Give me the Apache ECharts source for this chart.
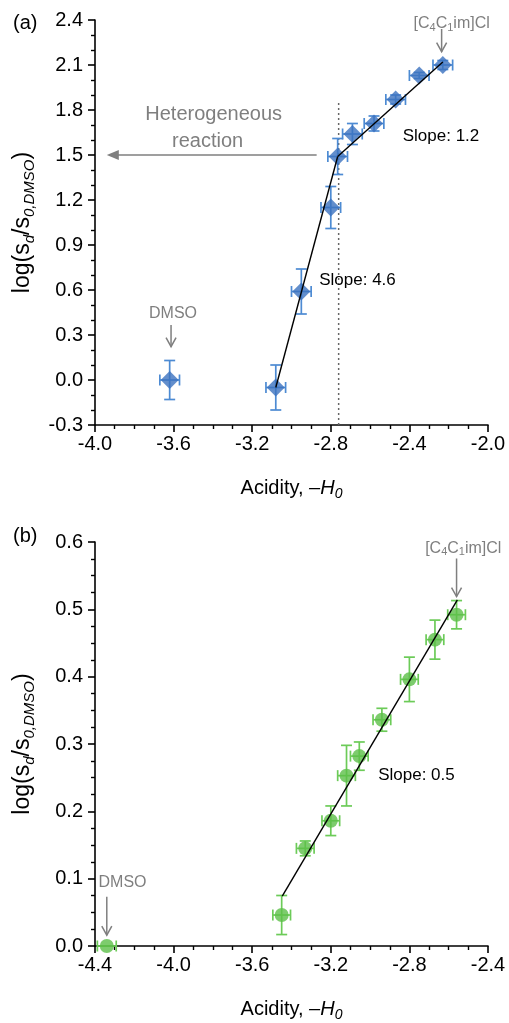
<!DOCTYPE html>
<html><head><meta charset="utf-8">
<script src="https://cdn.jsdelivr.net/npm/echarts@6/dist/echarts.min.js"></script>
<style>html,body{margin:0;padding:0;background:#fff}#c{width:509px;height:1023px}</style>
</head><body><div id="c"></div>
<script>
// ---------- data: panel (a) ----------
const acidityA   = [-3.62, -3.08, -2.95, -2.80, -2.765, -2.69, -2.58, -2.47, -2.35, -2.23];
const logRatioA  = [0.00, -0.05, 0.59, 1.15, 1.49, 1.64, 1.71, 1.87, 2.03, 2.10];
const acidErrA   = [0.05, 0.05, 0.05, 0.05, 0.05, 0.05, 0.05, 0.05, 0.05, 0.05];
const logErrA    = [0.13, 0.15, 0.15, 0.14, 0.12, 0.07, 0.05, 0.03, 0.02, 0.03];
const fitA1X = [-3.08, -2.765], fitA1Y = [-0.05, 1.49];
const fitA2X = [-2.765, -2.23], fitA2Y = [1.49, 2.12];
const boundaryX = [-2.76, -2.76], boundaryY = [-0.3, 1.85];
const xAxisA = [-4.0, -2.0, 0.4];   // min, max, interval
const yAxisA = [-0.3, 2.4, 0.3];

// ---------- data: panel (b) ----------
const acidityB   = [-4.34, -3.45, -3.33, -3.20, -3.12, -3.055, -2.94, -2.80, -2.67, -2.56];
const logRatioB  = [0.000, 0.046, 0.145, 0.186, 0.253, 0.282, 0.336, 0.396, 0.455, 0.492];
const acidErrB   = [0.048, 0.045, 0.045, 0.045, 0.045, 0.045, 0.045, 0.045, 0.045, 0.045];
const logErrB    = [0.000, 0.029, 0.011, 0.022, 0.045, 0.021, 0.017, 0.033, 0.029, 0.021];
const fitBX = [-3.447, -2.556], fitBY = [0.074, 0.514];
const xAxisB = [-4.4, -2.4, 0.4];
const yAxisB = [0.0, 0.6, 0.1];

// ---------- annotations (data coordinates) ----------
const arrowsA = [[-3.613, 0.367, -3.613, 0.222, 0], [-2.236, 2.34, -2.236, 2.189, 0], [-2.872, 1.5, -3.94, 1.5, 1]];
const arrowsB = [[-2.56, 0.5755, -2.56, 0.519, 0], [-4.34, 0.073, -4.34, 0.016, 0]];
const textsA = [
  {t:'Heterogeneous', x:-3.396, y:1.767, a:'center', c:'#7f7f7f', s:20},
  {t:'reaction', x:-3.427, y:1.589, a:'center', c:'#7f7f7f', s:20},
  {t:'Slope: 1.2', x:-2.434, y:1.622, a:'left', c:'#000', s:17},
  {t:'Slope: 4.6', x:-2.859, y:0.667, a:'left', c:'#000', s:17},
  {t:'DMSO', x:-3.603, y:0.445, a:'center', c:'#7f7f7f', s:16},
  {t:'[C{s|4}C{s|1}im]Cl', x:-2.185, y:2.373, a:'center', c:'#7f7f7f', s:16}
];
const textsB = [
  {t:'[C{s|4}C{s|1}im]Cl', x:-2.526, y:0.590, a:'center', c:'#7f7f7f', s:16},
  {t:'DMSO', x:-4.26, y:0.094, a:'center', c:'#7f7f7f', s:16},
  {t:'Slope: 0.5', x:-2.959, y:0.254, a:'left', c:'#000', s:17}
];

const FONT = '"Liberation Sans", Arial, sans-serif';
const BLUE = '#3b72bf', BLUE_E = '#4d8bd3', GREEN = '#5cbf48', GREEN_E = '#6ccb58';

function xAx(gi, r) {
  return {
    type:'value', gridIndex:gi, min:r[0], max:r[1], interval:r[2],
    axisLine:{onZero:false, lineStyle:{color:'#000', width:1.6}},
    axisTick:{show:true, length:7, lineStyle:{color:'#000', width:1.6}},
    minorTick:{show:true, splitNumber:4, length:4, lineStyle:{color:'#000', width:1.4}},
    splitLine:{show:false},
    axisLabel:{color:'#000', fontSize:20, fontFamily:FONT, margin:9, formatter:v=>v.toFixed(1)},
    name:'Acidity, {it|–H}{sub|0}', nameLocation:'middle', nameGap:50,
    nameTextStyle:{color:'#000', fontSize:20, fontFamily:FONT, lineHeight:26,
      rich:{it:{fontStyle:'italic', fontSize:20, fontFamily:FONT, lineHeight:26},
            sub:{fontStyle:'italic', fontSize:14, fontFamily:FONT, lineHeight:14, verticalAlign:'bottom'}}}
  };
}
function yAx(gi, r, minorSplit) {
  return {
    type:'value', gridIndex:gi, min:r[0], max:r[1], interval:r[2],
    axisLine:{show:true, onZero:false, lineStyle:{color:'#000', width:1.6}},
    axisTick:{show:true, length:7, lineStyle:{color:'#000', width:1.6}},
    minorTick:{show:true, splitNumber:minorSplit, length:4, lineStyle:{color:'#000', width:1.4}},
    splitLine:{show:false},
    axisLabel:{color:'#000', fontSize:20, fontFamily:FONT, margin:12, formatter:v=>v.toFixed(1)},
    name:'log(s{sub|d}/s{sub|0,DMSO})', nameLocation:'middle', nameGap:58, nameRotate:90,
    nameTextStyle:{color:'#000', fontSize:23, fontFamily:FONT, lineHeight:28,
      rich:{sub:{fontStyle:'italic', fontSize:15, fontFamily:FONT, lineHeight:15, verticalAlign:'bottom'}}}
  };
}
function errSeries(gi, xs, ys, xe, ye, color) {
  return {
    type:'custom', xAxisIndex:gi, yAxisIndex:gi, z:3, silent:true,
    data: xs.map((x,i)=>[x, ys[i], xe[i], ye[i]]),
    renderItem:(p, api)=>{
      const x=api.value(0), y=api.value(1), dx=api.value(2), dy=api.value(3);
      const c=api.coord([x,y]), l=api.coord([x-dx,y]), r=api.coord([x+dx,y]);
      const t=api.coord([x,y+dy]), b=api.coord([x,y-dy]);
      const cap=5.5, st={stroke:color, lineWidth:1.7};
      const ch=[
        {type:'line', shape:{x1:l[0],y1:c[1],x2:r[0],y2:c[1]}, style:st},
        {type:'line', shape:{x1:l[0],y1:c[1]-cap,x2:l[0],y2:c[1]+cap}, style:st},
        {type:'line', shape:{x1:r[0],y1:c[1]-cap,x2:r[0],y2:c[1]+cap}, style:st}
      ];
      if (dy>0) {
        ch.push({type:'line', shape:{x1:c[0],y1:t[1],x2:c[0],y2:b[1]}, style:st});
        ch.push({type:'line', shape:{x1:c[0]-cap,y1:t[1],x2:c[0]+cap,y2:t[1]}, style:st});
        ch.push({type:'line', shape:{x1:c[0]-cap,y1:b[1],x2:c[0]+cap,y2:b[1]}, style:st});
      }
      return {type:'group', children:ch};
    }
  };
}
function lineSeries(gi, xs, ys, dotted) {
  return {
    type:'line', xAxisIndex:gi, yAxisIndex:gi, z: dotted?1:4, silent:true, symbol:'none',
    data: xs.map((x,i)=>[x, ys[i]]),
    lineStyle:{color: dotted?'#666':'#000', width: dotted?1.5:1.4, type: dotted?[2,3]:'solid'}
  };
}
function arrowSeries(gi, arr) {
  return {
    type:'custom', xAxisIndex:gi, yAxisIndex:gi, z:5, silent:true, data:arr,
    renderItem:(p, api)=>{
      const a=api.coord([api.value(0), api.value(1)]), b=api.coord([api.value(2), api.value(3)]);
      const kind=api.value(4);
      const col='#7f7f7f';
      if (kind===0) {
        return {type:'group', children:[
          {type:'line', shape:{x1:a[0],y1:a[1],x2:b[0],y2:b[1]}, style:{stroke:col, lineWidth:1.5}},
          {type:'polyline', shape:{points:[[b[0]-5,b[1]-9],[b[0],b[1]],[b[0]+5,b[1]-9]]}, style:{stroke:col, lineWidth:1.5, fill:null}}
        ]};
      }
      return {type:'group', children:[
        {type:'line', shape:{x1:a[0],y1:a[1],x2:b[0]+10,y2:b[1]}, style:{stroke:col, lineWidth:1.5}},
        {type:'polygon', shape:{points:[[b[0],b[1]],[b[0]+12,b[1]-5],[b[0]+12,b[1]+5]]}, style:{fill:col}}
      ]};
    }
  };
}
function textSeries(gi, texts) {
  return {
    type:'custom', xAxisIndex:gi, yAxisIndex:gi, z:6, silent:true,
    data: texts.map(o=>[o.x, o.y]),
    renderItem:(p, api)=>{
      const o=texts[p.dataIndex];
      const c=api.coord([api.value(0), api.value(1)]);
      return {type:'text', x:c[0], y:c[1], style:{
        text:o.t, fill:o.c, fontSize:o.s, fontFamily:FONT, align:o.a, verticalAlign:'middle',
        lineHeight:o.s+2,
        rich:{s:{fontSize:11, fontFamily:FONT, fill:o.c, lineHeight:11, verticalAlign:'bottom'}}
      }};
    }
  };
}

const chart = echarts.init(document.getElementById('c'), null, {renderer:'canvas'});
chart.setOption({
  animation:false,
  backgroundColor:'#fff',
  title:[
    {text:'(a)', left:8, top:8, textStyle:{fontSize:20, fontWeight:'normal', color:'#000', fontFamily:FONT}},
    {text:'(b)', left:8, top:521, textStyle:{fontSize:20, fontWeight:'normal', color:'#000', fontFamily:FONT}}
  ],
  grid:[
    {left:95, top:20, width:393, height:405},
    {left:95, top:542, width:393, height:404}
  ],
  xAxis:[xAx(0, xAxisA), xAx(1, xAxisB)],
  yAxis:[yAx(0, yAxisA, 3), yAx(1, yAxisB, 4)],
  series:[
    lineSeries(0, boundaryX, boundaryY, true),
    lineSeries(0, fitA1X, fitA1Y, false),
    lineSeries(0, fitA2X, fitA2Y, false),
    errSeries(0, acidityA, logRatioA, acidErrA, logErrA, BLUE_E),
    {type:'scatter', xAxisIndex:0, yAxisIndex:0, z:3, symbol:'diamond', symbolSize:18,
      itemStyle:{color:BLUE}, data: acidityA.map((x,i)=>[x, logRatioA[i]])},
    arrowSeries(0, arrowsA),
    textSeries(0, textsA),
    lineSeries(1, fitBX, fitBY, false),
    errSeries(1, acidityB, logRatioB, acidErrB, logErrB, GREEN_E),
    {type:'scatter', xAxisIndex:1, yAxisIndex:1, z:3, symbol:'circle', symbolSize:14, clip:false,
      itemStyle:{color:GREEN}, data: acidityB.map((x,i)=>[x, logRatioB[i]])},
    arrowSeries(1, arrowsB),
    textSeries(1, textsB)
  ]
});
</script>
</body></html>
